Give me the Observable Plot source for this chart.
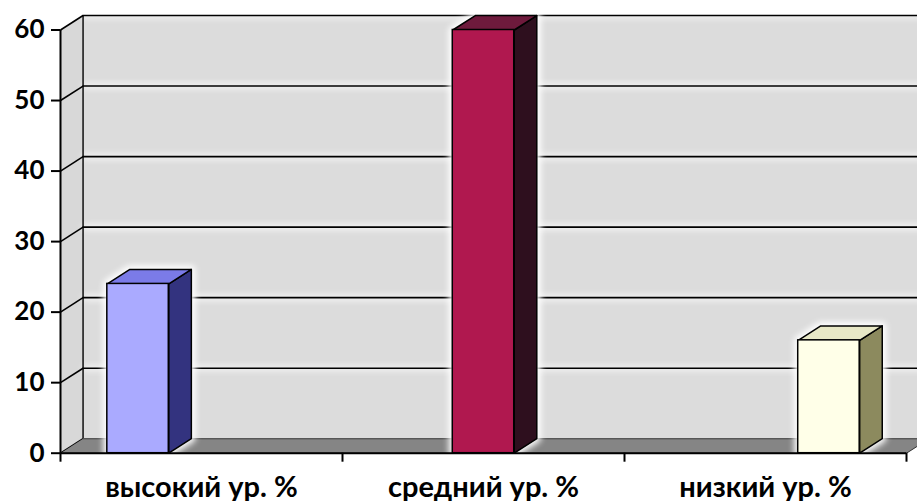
<!DOCTYPE html>
<html><head><meta charset="utf-8">
<script src="https://cdn.jsdelivr.net/npm/d3@7"></script>
<script src="https://cdn.jsdelivr.net/npm/@observablehq/plot@0.6"></script>
<style>
html,body{margin:0;padding:0;background:#fff;}
.glow{filter: drop-shadow(0 0 3px #fff) drop-shadow(0 0 3px #fff);}
.blur{filter: blur(3px);}
</style></head><body><div id="chart"></div>
<script>
// ---- data ----
const categories = ["высокий ур. %", "средний ур. %", "низкий ур. %"];
const values = [24, 60, 16];
const yTicks = [0, 10, 20, 30, 40, 50, 60];

// ---- style ----
const faceColors = ["#aaaaff", "#b0184f", "#ffffe8"];
const topColors  = ["#7b7be8", "#6e1a3c", "#e8e8c6"];
const sideColors = ["#33337f", "#2e0f1e", "#8c8a5e"];
const DX = 0.08, DY = 2.05;      // 3D depth, in data units
const BAR_W = 0.218, SPREAD = 1.225;
const n = categories.length;
const yMax = 60;

const bars = categories.map((c, i) => {
  const cx = n / 2 + (i - (n - 1) / 2) * SPREAD;
  return {c, v: values[i], x1: cx - BAR_W / 2, x2: cx + BAR_W / 2, i};
});
const topPoly  = b => [[b.x1, b.v], [b.x2, b.v], [b.x2 + DX, b.v + DY], [b.x1 + DX, b.v + DY], [b.x1, b.v]];
const sidePoly = b => [[b.x2, 0], [b.x2, b.v], [b.x2 + DX, b.v + DY], [b.x2 + DX, DY], [b.x2, 0]];
const hullPoly = b => [[b.x1, 0], [b.x1, b.v], [b.x1 + DX, b.v + DY], [b.x2 + DX, b.v + DY], [b.x2 + DX, DY], [b.x2, 0], [b.x1, 0]];

const wallPoly  = [[DX, DY], [n + DX, DY], [n + DX, yMax + DY], [DX, yMax + DY]];
const leftPoly  = [[0, 0], [0, yMax], [DX, yMax + DY], [DX, DY]];
const floorPoly = [[0, 0], [n, 0], [n + DX, DY], [DX, DY]];

const barMarks = bars.flatMap(b => [
  Plot.line(hullPoly(b), {fill: "#fff", stroke: "#fff", strokeWidth: 8, className: "blur"}),
  Plot.line(sidePoly(b), {fill: sideColors[b.i], stroke: "#000", strokeWidth: 1.5}),
  Plot.line(topPoly(b), {fill: topColors[b.i], stroke: "#000", strokeWidth: 1.5}),
  Plot.rect([b], {x1: "x1", x2: "x2", y1: 0, y2: "v", fill: faceColors[b.i], stroke: "#000", strokeWidth: 1.5}),
]);

const chart = Plot.plot({
  width: 917,
  height: 501,
  marginLeft: 60,
  marginRight: 11,
  marginTop: 29.5,
  marginBottom: 48.3,
  style: {fontFamily: "Lato, 'Open Sans', sans-serif", background: "#fff", overflow: "visible", color: "#000"},
  x: {type: "linear", domain: [0, n]},
  y: {domain: [0, yMax]},
  marks: [
    // walls & floor
    Plot.line(wallPoly, {fill: "#dcdcdc", stroke: "none"}),
    Plot.line(leftPoly, {fill: "#d8d8d8", stroke: "none"}),
    // gridlines on back wall
    Plot.ruleY(yTicks.filter(v => v > 0), {y: v => v + DY, x1: DX, x2: n + DX, stroke: "#000", strokeWidth: 1.6, className: "glow"}),
    // gridlines on left wall
    Plot.link(yTicks, {x1: 0, y1: v => v, x2: DX, y2: v => v + DY, stroke: "#000", strokeWidth: 1.6}),
    // back wall left edge
    Plot.ruleX([DX], {y1: DY, y2: yMax + DY, stroke: "#000", strokeWidth: 1.4}),
    // floor
    Plot.line(floorPoly, {fill: "#858585", stroke: "#333", strokeWidth: 1}),
    ...barMarks,
    // axis lines
    Plot.ruleX([0], {y1: 0, y2: yMax, stroke: "#000", strokeWidth: 2}),
    Plot.ruleY([0], {x1: 0, x2: n, stroke: "#000", strokeWidth: 2}),
    Plot.axisY(yTicks, {label: null, tickSize: 9, tickPadding: 7, fontSize: 26, fontWeight: "bold", stroke: "#000", strokeWidth: 2}),
    Plot.axisX(d3.range(n + 1), {label: null, tickSize: 9, tickFormat: () => "", stroke: "#000", strokeWidth: 2}),
    Plot.axisX(categories.map((c, i) => i + 0.5), {label: null, tickSize: 0, tickPadding: 23, tickFormat: d => categories[Math.floor(d)], fontSize: 29, fontWeight: "bold"})
  ]
});
document.getElementById("chart").appendChild(chart);
</script>
</body></html>
